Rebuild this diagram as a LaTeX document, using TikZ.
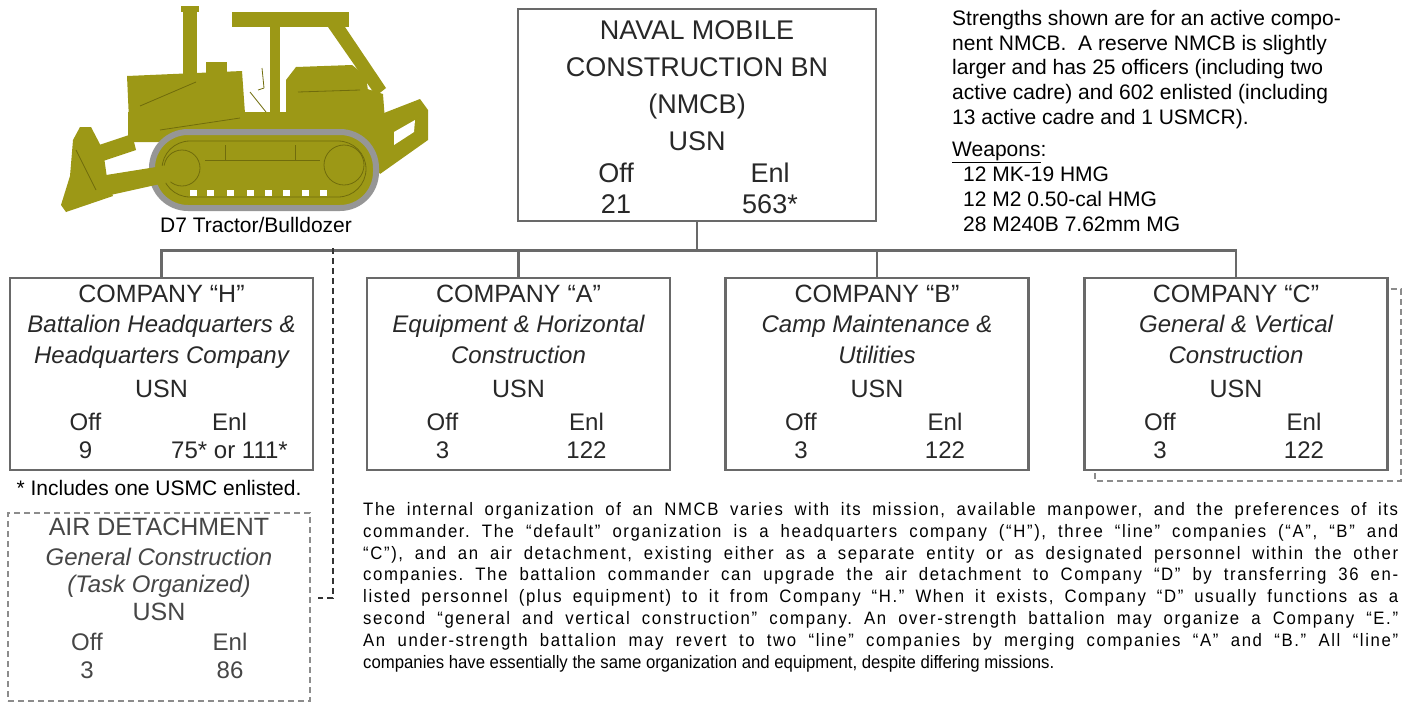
\documentclass[tikz,border=0pt]{standalone}
\usepackage{fontspec}
\setmainfont{Liberation Sans}
\newfontfamily\remarkfont[FakeStretch=0.93, LetterSpace=9]{Liberation Sans}
\newfontfamily\remarkplain[FakeStretch=0.93]{Liberation Sans}
\usetikzlibrary{calc, positioning}

\definecolor{boxline}{RGB}{105,105,105}
\definecolor{boxtext}{RGB}{40,40,40}
\definecolor{airtext}{RGB}{70,70,70}
\definecolor{dozer}{RGB}{156,152,22}
\definecolor{dozerdark}{RGB}{112,108,12}
\definecolor{trackgray}{RGB}{150,150,150}

\tikzset{
  unitbox/.style={draw=boxline, line width=2.4pt, fill=white, minimum width=303pt,
    minimum height=192pt, inner sep=0pt},
  link/.style={draw=boxline, line width=2.2pt},
  optline/.style={draw=black!80, line width=1.8pt, dash pattern=on 6pt off 4pt},
  optbox/.style={draw=black!45, line width=2pt, dash pattern=on 6pt off 4pt},
  unittitle/.style={anchor=base, text=boxtext, inner sep=0pt, font=\fontsize{25}{25}\selectfont},
  unitrole/.style={anchor=base, text=boxtext, inner sep=0pt, font=\fontsize{24}{24}\selectfont\itshape},
  unitnum/.style={anchor=base, text=boxtext, inner sep=0pt, font=\fontsize{24}{24}\selectfont},
  bigtitle/.style={anchor=base, text=boxtext, inner sep=0pt, font=\fontsize{27}{27}\selectfont},
  note/.style={inner sep=0pt, font=\fontsize{21}{24.7}\selectfont},
}

% one company box with its text: name, top centre, title, two role lines, Off, Enl
\newcommand{\company}[7]{%
  \node[unitbox, anchor=north] (#1) at #2 {};
  \node[unittitle] (#1-title) at ($(#1.north)+(0,25)$) {#3};
  \node[unitrole] (#1-roleA) at ($(#1.north)+(0,55)$) {#4};
  \node[unitrole] (#1-roleB) at ($(#1.north)+(0,86)$) {#5};
  \node[unittitle] (#1-svc) at ($(#1.north)+(0,120)$) {USN};
  \node[unitnum] (#1-offhead) at ($(#1.north)+(-76,153)$) {Off};
  \node[unitnum] (#1-enlhead) at ($(#1.north)+(68,153)$) {Enl};
  \node[unitnum] (#1-off) at ($(#1.north)+(-76,181)$) {#6};
  \node[unitnum] (#1-enl) at ($(#1.north)+(68,181)$) {#7};
}

\begin{document}
\begin{tikzpicture}[x=1pt, y=-1pt]
\useasboundingbox (0,0) rectangle (1404,702);

% Bulldozer
\begin{scope}[line join=round]
% frame and engine hood
\fill[dozer] (128,112) rectangle (374,142);
\fill[dozer] (127,76) -- (242,71) -- (247,142) -- (130,142) -- cycle;
\fill[dozer] (206,62) rectangle (227,76);
% exhaust stack
\fill[dozer] (183,8) rectangle (197,80);
\fill[dozer] (181,6) rectangle (199,12);
% canopy, post and rear brace
\fill[dozer] (232,12) rectangle (349,27);
\fill[dozer] (270,27) rectangle (280,120);
\fill[dozer] (328,27) -- (345,27) -- (386,88) -- (376,96) -- cycle;
% seat and fuel tank
\fill[dozer] (286,80) -- (296,67) -- (352,65) -- (366,76) -- (372,120) -- (286,120) -- cycle;
\fill[dozer] (358,86) -- (383,94) -- (386,134) -- (362,134) -- cycle;
% ripper
\fill[dozer] (366,120) -- (420,99) -- (428,110) -- (428,140) -- (380,174) -- (372,162) -- cycle;
\fill[white] (394,132) -- (415,120) -- (414,132) -- (394,145) -- cycle;
% track loop
\draw[draw=trackgray, line width=6pt, fill=dozer, rounded corners=36pt] (152,132) rectangle (376,208);
\draw[dozerdark, line width=0.8pt, rounded corners=28pt] (162,141) rectangle (366,197);
\foreach \gx in {190,207,227,247,265,283,302,320}
  \fill[white] (\gx,190) rectangle ++(7,6);
\draw[dozerdark, line width=0.8pt] (182,168) circle (18pt) (344,165) circle (20pt);
\draw[dozerdark, line width=0.8pt] (205,160) -- (320,160) (225,145) -- (225,160) (295,145) -- (295,160);
% push arm, lift arm and blade
\fill[dozer] (100,176) -- (175,164) -- (178,180) -- (106,196) -- cycle;
\fill[dozer] (96,146) -- (132,134) -- (136,150) -- (100,162) -- cycle;
\fill[dozer] (80,127) -- (91,127) -- (103,150) -- (108,185) -- (113,196) -- (66,212) -- (61,205) -- (70,176) -- (73,140) -- cycle;
% a few panel lines
\draw[dozerdark, line width=0.8pt] (140,106) -- (196,82) (160,130) -- (240,118) (298,92) -- (360,90)
  (262,68) -- (264,88) -- (258,90) (250,92) -- (266,112) (76,150) -- (96,190);
\end{scope}
\node[note, anchor=base] (dozercap) at (256,232) {D7 Tractor/Bulldozer};

% Battalion box
\node[draw=boxline, line width=2.4pt, fill=white, minimum width=358pt, minimum height=212pt,
  inner sep=0pt, anchor=north] (nmcb) at (697,8) {};
\node[bigtitle] (nmcb-l1) at ($(nmcb.north)+(0,31)$) {NAVAL MOBILE};
\node[bigtitle] (nmcb-l2) at ($(nmcb.north)+(0,68)$) {CONSTRUCTION BN};
\node[bigtitle] (nmcb-l3) at ($(nmcb.north)+(0,105)$) {(NMCB)};
\node[bigtitle] (nmcb-svc) at ($(nmcb.north)+(0,142)$) {USN};
\node[bigtitle] (nmcb-offhead) at ($(nmcb.north)+(-81,174)$) {Off};
\node[bigtitle] (nmcb-enlhead) at ($(nmcb.north)+(73,174)$) {Enl};
\node[bigtitle] (nmcb-off) at ($(nmcb.north)+(-81,205)$) {21};
\node[bigtitle] (nmcb-enl) at ($(nmcb.north)+(73,205)$) {563*};

% Companies
\company{coH}{(161.5,277)}{COMPANY “H”}{Battalion Headquarters \&}{Headquarters Company}{9}{75* or 111*}
\company{coA}{(518.5,277)}{COMPANY “A”}{Equipment \& Horizontal}{Construction}{3}{122}
\company{coB}{(877,277)}{COMPANY “B”}{Camp Maintenance \&}{Utilities}{3}{122}
\company{coC}{(1236,277)}{COMPANY “C”}{General \& Vertical}{Construction}{3}{122}

% Connectors
\coordinate (bus) at ($(nmcb.south)+(0,28)$);
\draw[link] (nmcb.south) -- (bus);
\draw[link] (bus) -| (coH.north);
\draw[link] (bus) -| (coA.north);
\draw[link] (bus) -| (coB.north);
\draw[link] (bus) -| (coC.north);

% Extra company shown behind "C"
\draw[optbox] ($(coC.north east)+(2,12)$) -| ($(coC.south east)+(12,10)$) -| ($(coC.south west)+(12,0)$);

% Air detachment
\coordinate (airtap) at (333,248);
\coordinate (airend) at (318,598);
\draw[optline] (airtap) |- (airend);
\node[draw=black!45, line width=2pt, dash pattern=on 6pt off 4pt, minimum width=302pt,
  minimum height=188pt, inner sep=0pt, anchor=north] (air) at (159,512) {};
\node[unittitle, text=airtext] (air-title) at ($(air.north)+(0,23)$) {AIR DETACHMENT};
\node[unitrole, text=airtext] (air-roleA) at ($(air.north)+(0,53)$) {General Construction};
\node[unitrole, text=airtext] (air-roleB) at ($(air.north)+(0,80)$) {(Task Organized)};
\node[unittitle, text=airtext] (air-svc) at ($(air.north)+(0,108)$) {USN};
\node[unitnum, text=airtext] (air-offhead) at ($(air.north)+(-72,138)$) {Off};
\node[unitnum, text=airtext] (air-enlhead) at ($(air.north)+(71,138)$) {Enl};
\node[unitnum, text=airtext] (air-off) at ($(air.north)+(-72,166)$) {3};
\node[unitnum, text=airtext] (air-enl) at ($(air.north)+(71,166)$) {86};

% Notes
\node[note, anchor=base] (footnote) at (159,495) {* Includes one USMC enlisted.};
\node[note, anchor=north west, align=left] (strength) at (952,10) {%
  Strengths shown are for an active compo-\\
  nent NMCB.\ \ A reserve NMCB is slightly\\
  larger and has 25 officers (including two\\
  active cadre) and 602 enlisted (including\\
  13 active cadre and 1 USMCR).\\[8pt]
  \underline{Weapons}:\\
  \hspace{11pt}12 MK-19 HMG\\
  \hspace{11pt}12 M2 0.50-cal HMG\\
  \hspace{11pt}28 M240B 7.62mm MG};
\node[inner sep=0pt, anchor=north west, text width=1035pt, align=justify,
  font=\remarkfont\fontsize{18}{21.9}\selectfont\frenchspacing] (remarks) at (363,502) {%
  The internal organization of an NMCB varies with its mission, available manpower, and the preferences of its\linebreak
  commander. The “default” organization is a headquarters company (“H”), three “line” companies (“A”, “B” and\linebreak
  “C”), and an air detachment, existing either as a separate entity or as designated personnel within the other\linebreak
  companies. The battalion commander can upgrade the air detachment to Company “D” by transferring 36 en-\linebreak
  listed personnel (plus equipment) to it from Company “H.” When it exists, Company “D” usually functions as a\linebreak
  second “general and vertical construction” company. An over-strength battalion may organize a Company “E.”\linebreak
  An under-strength battalion may revert to two “line” companies by merging companies “A” and “B.” All “line”\linebreak
  {\remarkplain companies have essentially the same organization and equipment, despite differing missions.}\par};
\end{tikzpicture}
\end{document}
